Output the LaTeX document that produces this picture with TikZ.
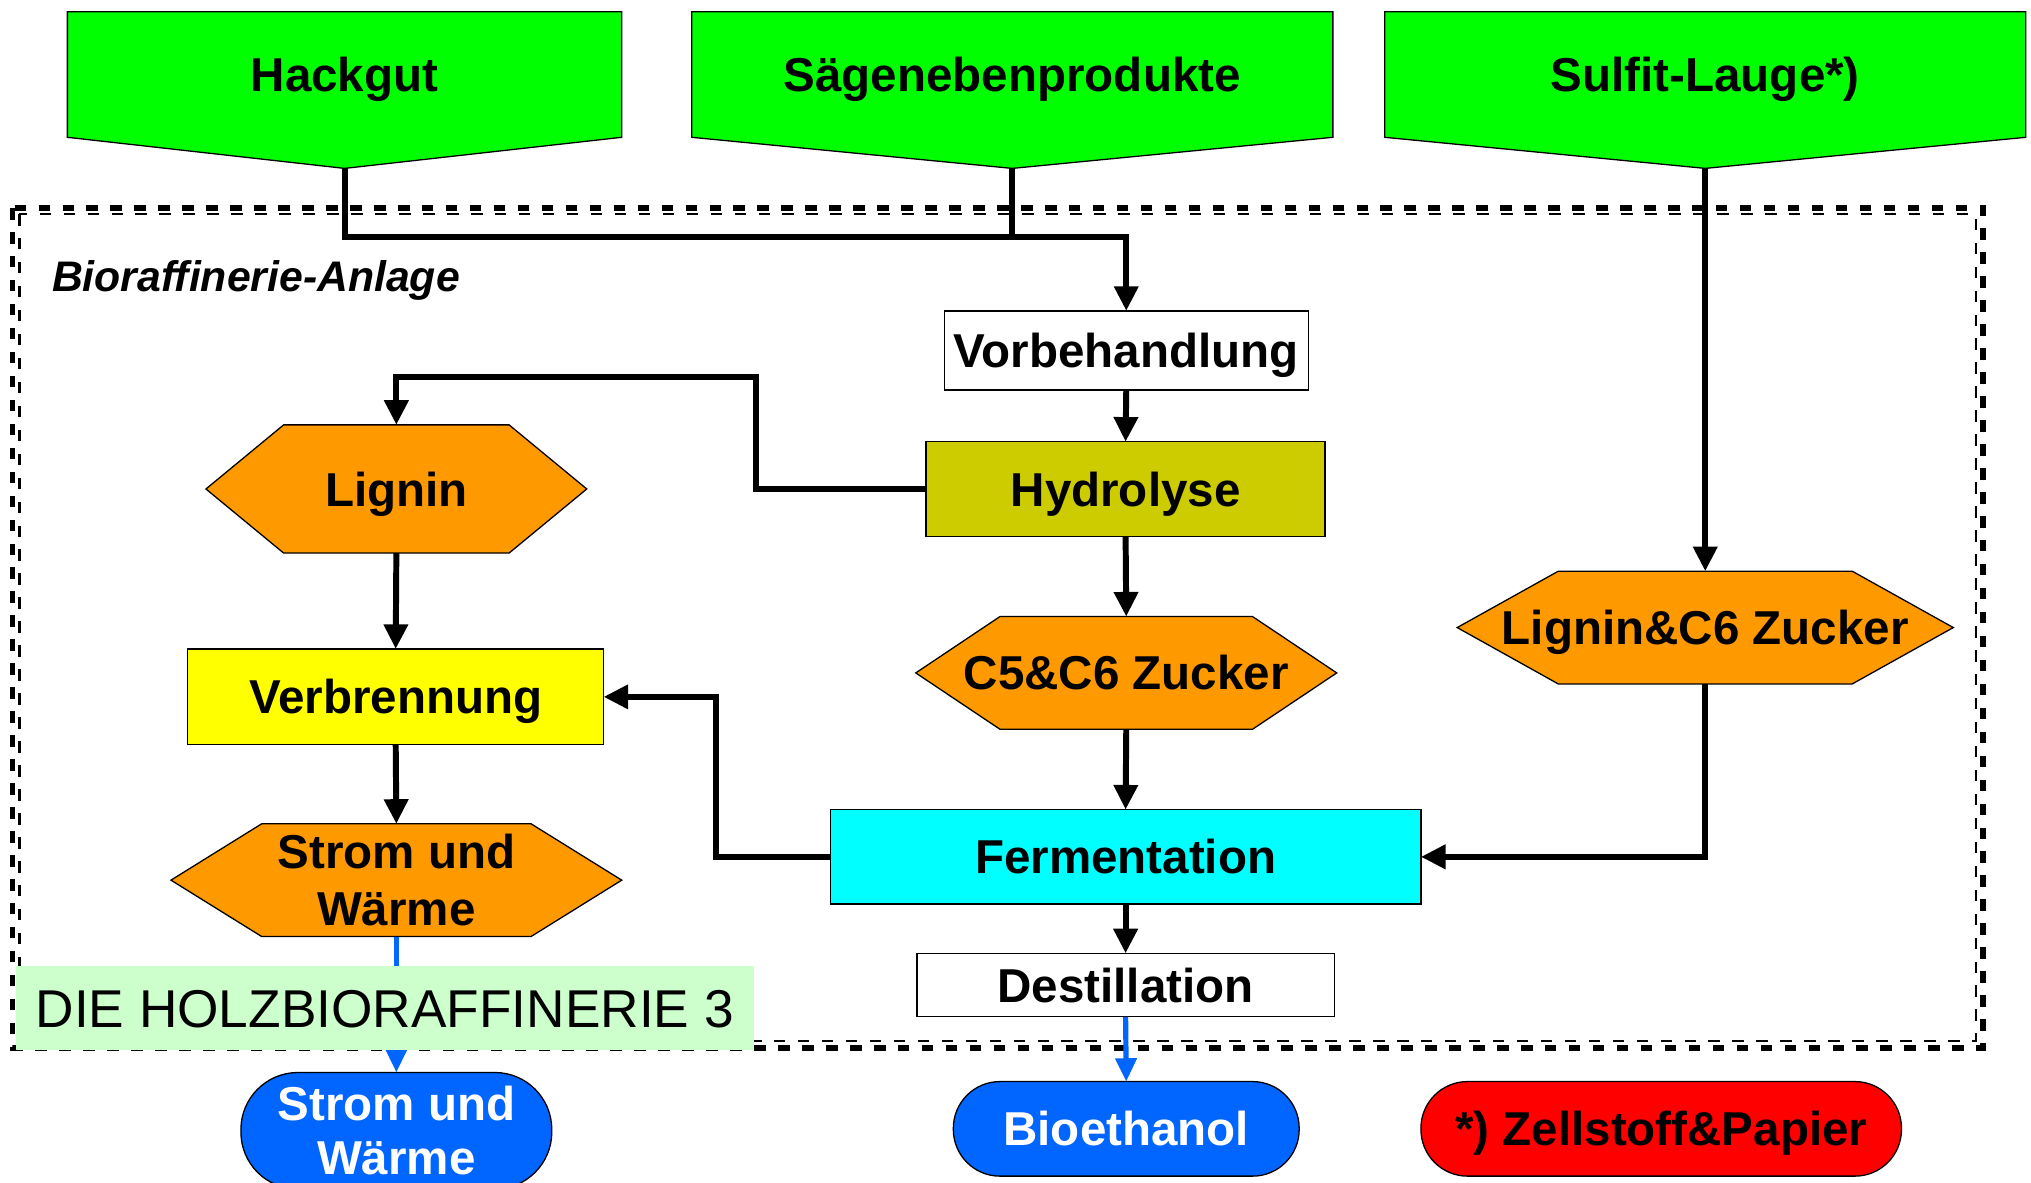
\documentclass[tikz,border=0pt]{standalone}
\usepackage{fontspec}
\setmainfont{Liberation Sans}
\usetikzlibrary{arrows.meta,calc}

\definecolor{srcgreen}{HTML}{00FF00}
\definecolor{prodorange}{HTML}{FF9900}
\definecolor{hydolive}{HTML}{CCCC00}
\definecolor{burnyellow}{HTML}{FFFF00}
\definecolor{fermcyan}{HTML}{00FFFF}
\definecolor{outblue}{HTML}{0066FF}
\definecolor{pulpred}{HTML}{FF0000}
\definecolor{tagmint}{HTML}{CCFFCC}

\pgfdeclarelayer{shapes}
\pgfsetlayers{shapes,main}

% hexagon behind a text node: node name, side indent, fill colour
\newcommand\hexshape[3]{%
  \filldraw[fill=#3, line width=1pt]
    ([xshift=#2pt]#1.north west) -- ([xshift=-#2pt]#1.north east) -- (#1.east)
    -- ([xshift=-#2pt]#1.south east) -- ([xshift=#2pt]#1.south west) -- (#1.west) -- cycle;}
% source banner: rectangle with a pointed bottom
\newcommand\bannershape[2]{%
  \filldraw[fill=srcgreen, line width=1pt]
    (#1.north west) -- (#1.north east) -- (#1.south east) -- (#2) -- (#1.south west) -- cycle;}

\tikzset{
  lbl/.style={font=\bfseries\fontsize{36.7}{44}\selectfont, inner sep=0pt, outer sep=0pt, align=center},
  capcenter/.style={text height=26.3pt, text depth=0pt},
  boxed/.style={lbl, draw, line width=1pt},
  terminal/.style={lbl, draw, line width=1pt, rounded corners=#1},
  flow/.style={line width=4.6pt, -{Triangle[length=19pt,width=18pt]}},
  flowplain/.style={line width=4.6pt},
  outflow/.style={line width=4pt, outblue, -{Triangle[length=18pt,width=16pt]}},
  siteborder/.style={dash pattern=on 8.9pt off 9.6pt}
}

\begin{document}
\begin{tikzpicture}[x=1pt,y=-1pt]
\useasboundingbox (0,0) rectangle (1568,913.3);
\clip (0,0) rectangle (1568,913.3);

% plant boundary
\draw[siteborder, line width=4.6pt] (9.65,160.6) rectangle (1531,809);
\draw[siteborder, line width=1.9pt] (15,165.2) rectangle (1525.5,803.7);

% raw material banners
\node[lbl, capcenter, minimum width=428pt, minimum height=97pt] (hack) at (266,57.5) {Hackgut};
\node[lbl, capcenter, minimum width=495pt, minimum height=97pt] (saege) at (781.5,57.5) {Sägenebenprodukte};
\node[lbl, capcenter, minimum width=495pt, minimum height=97pt] (sulfit) at (1316.5,57.5) {Sulfit-Lauge*)};
\coordinate (hacktip) at (266,130);
\coordinate (saegetip) at (781.5,130);
\coordinate (sulfittip) at (1316.5,130);

\node[anchor=west, inner sep=0pt, font=\bfseries\itshape\fontsize{33}{40}\selectfont,
      text height=23.6pt, text depth=0pt] (site) at (40,213) {Bioraffinerie-Anlage};

% process steps
\node[boxed, capcenter, fill=white, minimum width=281pt, minimum height=61pt] (vorb) at (869.5,270.5) {Vorbehandlung};
\node[boxed, capcenter, fill=hydolive, minimum width=308pt, minimum height=73pt] (hydro) at (869,377.5) {Hydrolyse};
\node[boxed, capcenter, fill=burnyellow, minimum width=321pt, minimum height=74pt] (verbr) at (305.5,538) {Verbrennung};
\node[boxed, capcenter, fill=fermcyan, minimum width=456pt, minimum height=73pt] (ferm) at (869,661.5) {Fermentation};
\node[boxed, capcenter, fill=white, minimum width=322pt, minimum height=49pt] (destil) at (869,760.5) {Destillation};

% intermediate products
\node[lbl, capcenter, minimum width=294pt, minimum height=99pt] (lignin) at (306,377.5) {Lignin};
\node[lbl, minimum width=348pt, minimum height=87pt] (strom) at (306,679.5) {Strom und\\Wärme};
\node[lbl, capcenter, minimum width=325pt, minimum height=87pt] (zucker) at (869.5,519.5) {C5\&C6 Zucker};
\node[lbl, capcenter, minimum width=383pt, minimum height=87pt] (lzucker) at (1316.5,484.5) {Lignin\&C6 Zucker};

% outputs
\node[terminal=44pt, fill=outblue, text=white, minimum width=240pt, minimum height=90pt] (stromout) at (306,873) {Strom und\\[-2pt]Wärme};
\node[terminal=36pt, capcenter, fill=outblue, text=white, minimum width=267pt, minimum height=73pt] (bioeth) at (869.5,871.5) {Bioethanol};
\node[terminal=36pt, capcenter, fill=pulpred, minimum width=371pt, minimum height=73pt] (zell) at (1282.5,871.5) {*) Zellstoff\&Papier};

\begin{pgfonlayer}{shapes}
  \bannershape{hack}{hacktip}
  \bannershape{saege}{saegetip}
  \bannershape{sulfit}{sulfittip}
  \hexshape{lignin}{60}{prodorange}
  \hexshape{strom}{70}{prodorange}
  \hexshape{zucker}{65}{prodorange}
  \hexshape{lzucker}{78}{prodorange}
\end{pgfonlayer}

% material flows
\coordinate (merge) at (869.5,183);
\coordinate (ligbend) at (584,291);
\coordinate (burnbend) at (553,538);
\draw[flow] (hacktip) |- (merge) -- (vorb.north);
\draw[flowplain] (saegetip) -- (saegetip |- merge);
\draw[flow] (vorb.south) -- (hydro.north);
\draw[flow] (hydro.west) -| (ligbend) -| (lignin.north);
\draw[flow] (lignin.south) -- (verbr.north);
\draw[flow] (verbr.south) -- (strom.north);
\draw[flow] (hydro.south) -- (zucker.north);
\draw[flow] (zucker.south) -- (ferm.north);
\draw[flow] (ferm.west) -| (burnbend) -- (verbr.east);
\draw[flow] (sulfittip) -- (lzucker.north);
\draw[flow] (lzucker.south) |- (ferm.east);
\draw[flow] (ferm.south) -- (destil.north);
\draw[outflow] (strom.south) -- (stromout.north);
\draw[outflow] (destil.south) -- (bioeth.north);

% caption tag
\node[fill=tagmint, minimum width=570pt, minimum height=65pt, inner sep=0pt,
      font=\fontsize{41.1}{49}\selectfont, text height=29.4pt, text depth=0pt] (tag) at (297,778.5) {DIE HOLZBIORAFFINERIE 3};
\end{tikzpicture}
\end{document}
